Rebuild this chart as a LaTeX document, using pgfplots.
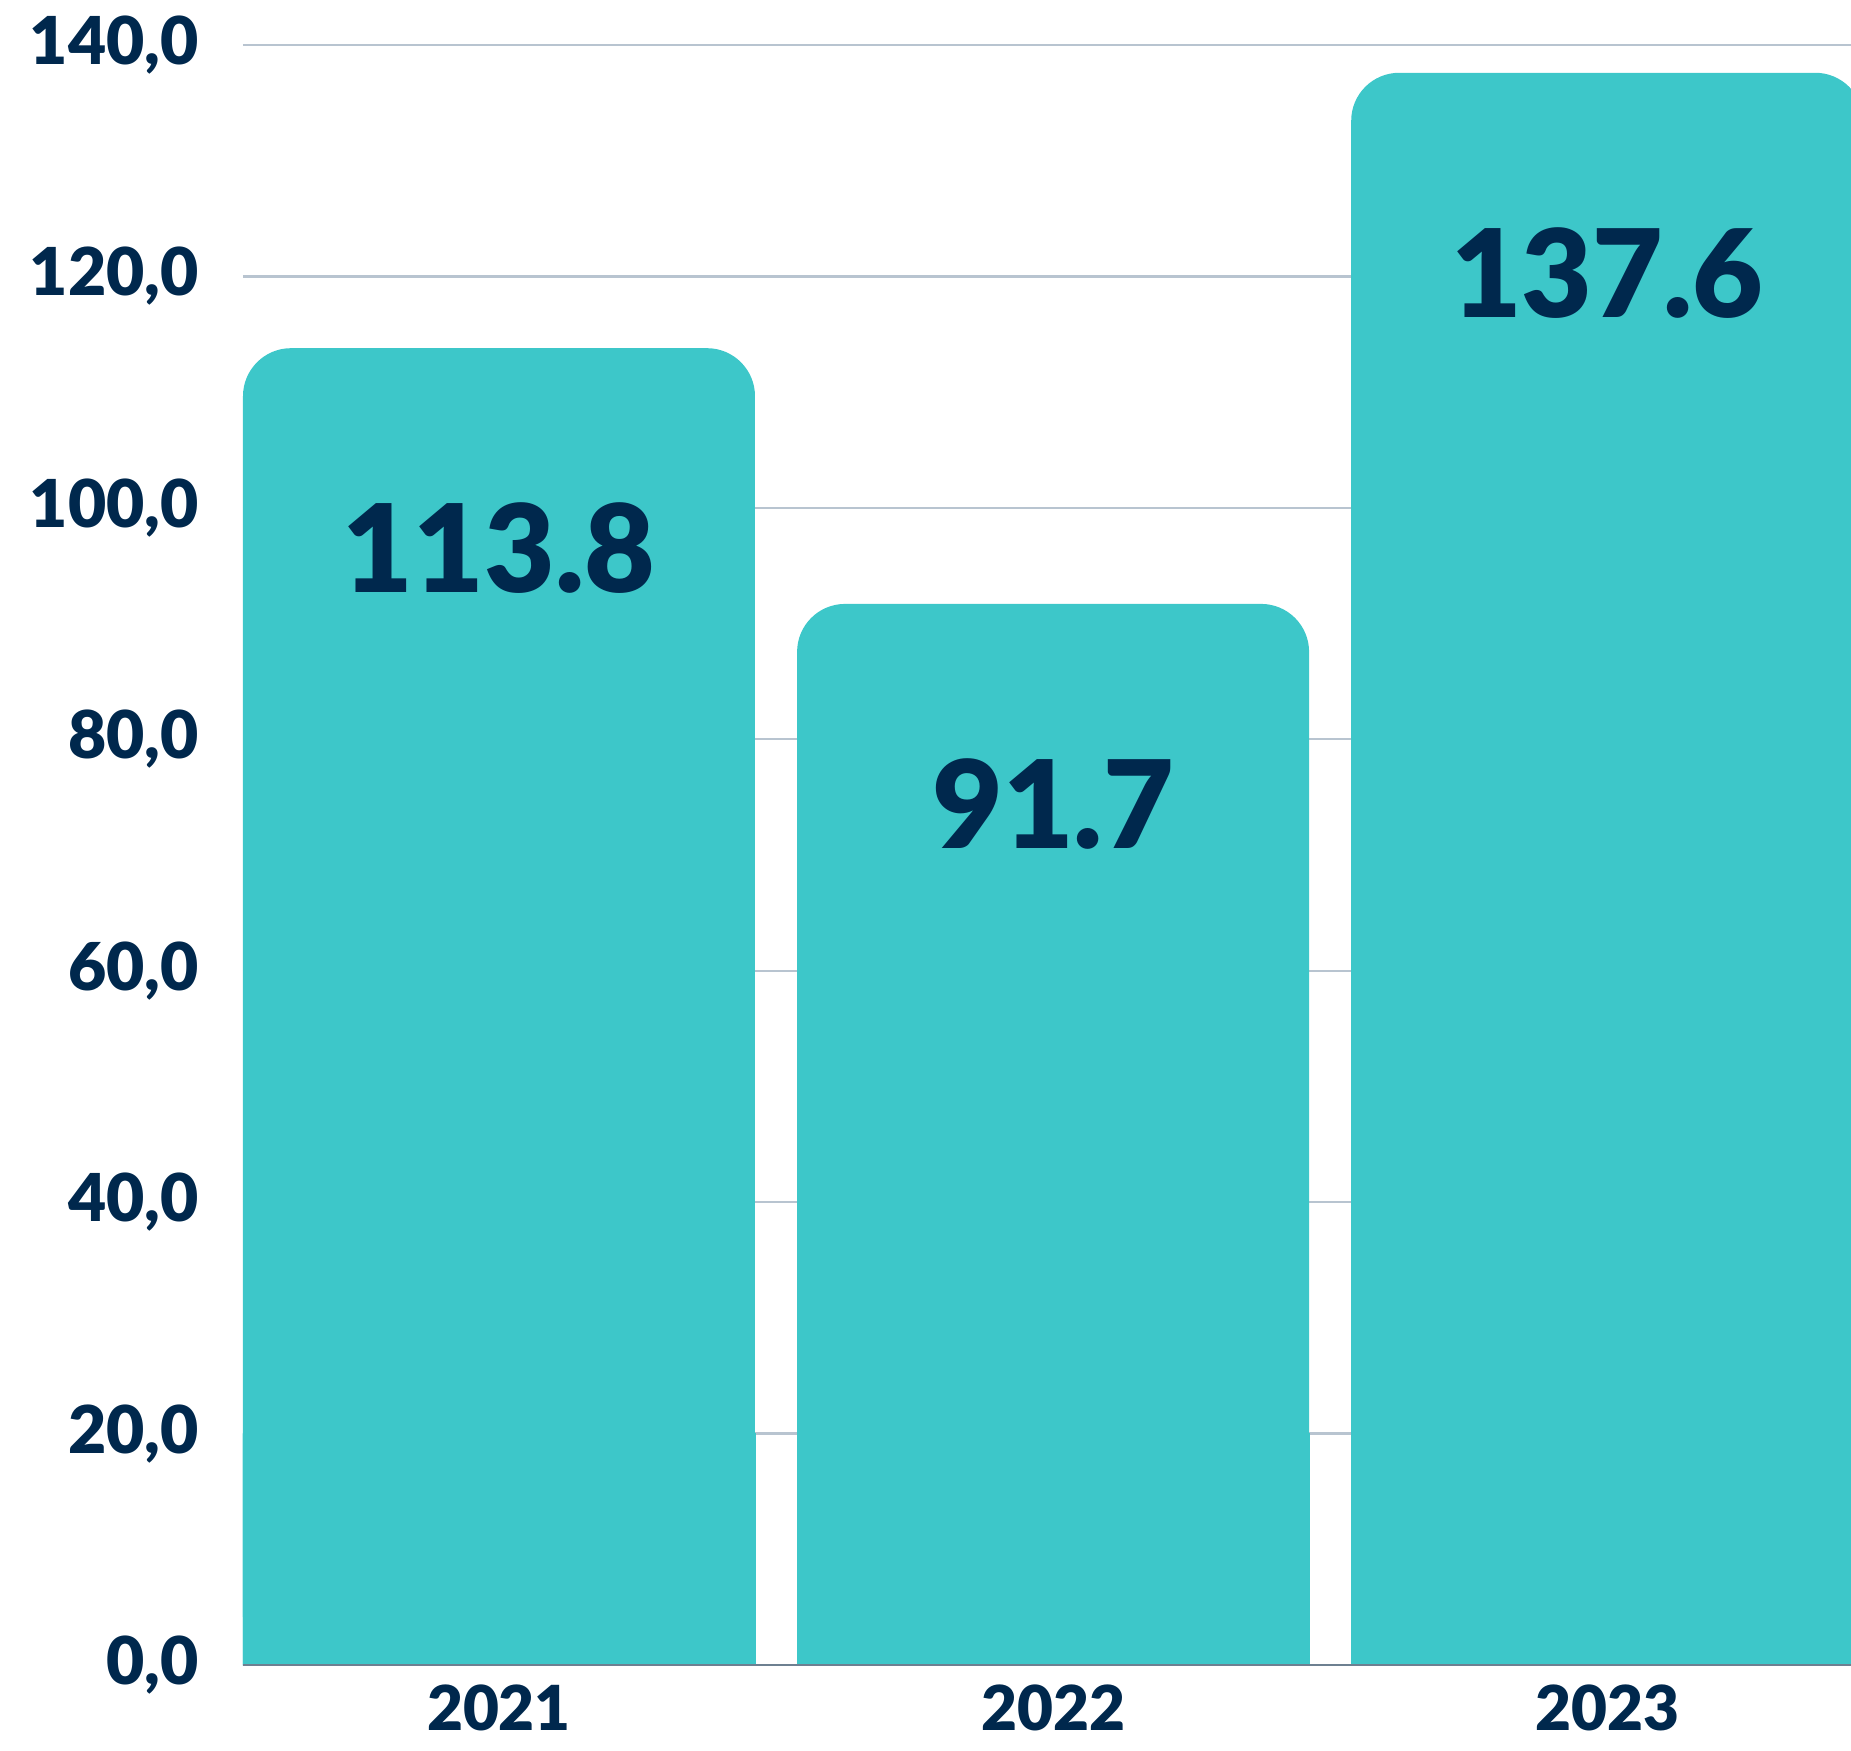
\documentclass[border=0pt]{standalone}
\usepackage{pgfplots}
\pgfplotsset{compat=1.18}
\usepackage{fontspec}
\setmainfont{Lato}[BoldFont={Lato Black}]
\definecolor{barcol}{RGB}{61,199,201}
\definecolor{navy}{RGB}{0,40,77}
\definecolor{gridcol}{RGB}{184,196,208}
\definecolor{basecol}{RGB}{110,128,145}
\begin{document}
\begin{tikzpicture}
\useasboundingbox (-60.75pt,-21.25pt) rectangle (402pt,416.25pt);
\begin{axis}[
  at={(0,0)}, anchor=south west,
  scale only axis,
  width=402pt, height=405pt,
  xmin=-0.462, xmax=2.44,
  ymin=0, ymax=140,
  ytick={0,20,...,140},
  xtick={0,1,2},
  xticklabels={2021,2022,2023},
  major tick length=0pt,
  axis line style={draw=none},
  ymajorgrids,
  grid style={gridcol, line width=0.6pt},
  /pgf/number format/assume math mode=true,
  yticklabel={\pgfmathprintnumber[fixed,fixed zerofill,precision=1,use comma,1000 sep={}]{\tick}},
  yticklabel style={font=\fontsize{16.5}{16.5}\selectfont\bfseries, text=navy, anchor=east, xshift=-7.5pt},
  xticklabel style={font=\fontsize{15.5}{15.5}\selectfont\bfseries, text=navy, anchor=north, yshift=-1.5pt},
  ybar, bar width=128pt,
  clip=true,
]
\addplot[fill=barcol, draw=none, bar shift=0pt, rounded corners=12pt,
  nodes near coords={\pgfmathprintnumber[fixed,fixed zerofill,precision=1]{\pgfplotspointmeta}},
  every node near coord/.append style={font=\fontsize{30.5}{30.5}\selectfont\bfseries, text=navy, anchor=center, yshift=-50pt}]
  coordinates {(0,113.8) (1,91.7) (2,137.6)};
\addplot[fill=barcol, draw=barcol, line width=0.3pt, bar shift=0pt, forget plot]
  coordinates {(0,20) (1,20) (2,20)};
\draw[basecol, line width=0.7pt] (rel axis cs:0,0) -- (rel axis cs:1,0);
\end{axis}
\end{tikzpicture}
\end{document}
